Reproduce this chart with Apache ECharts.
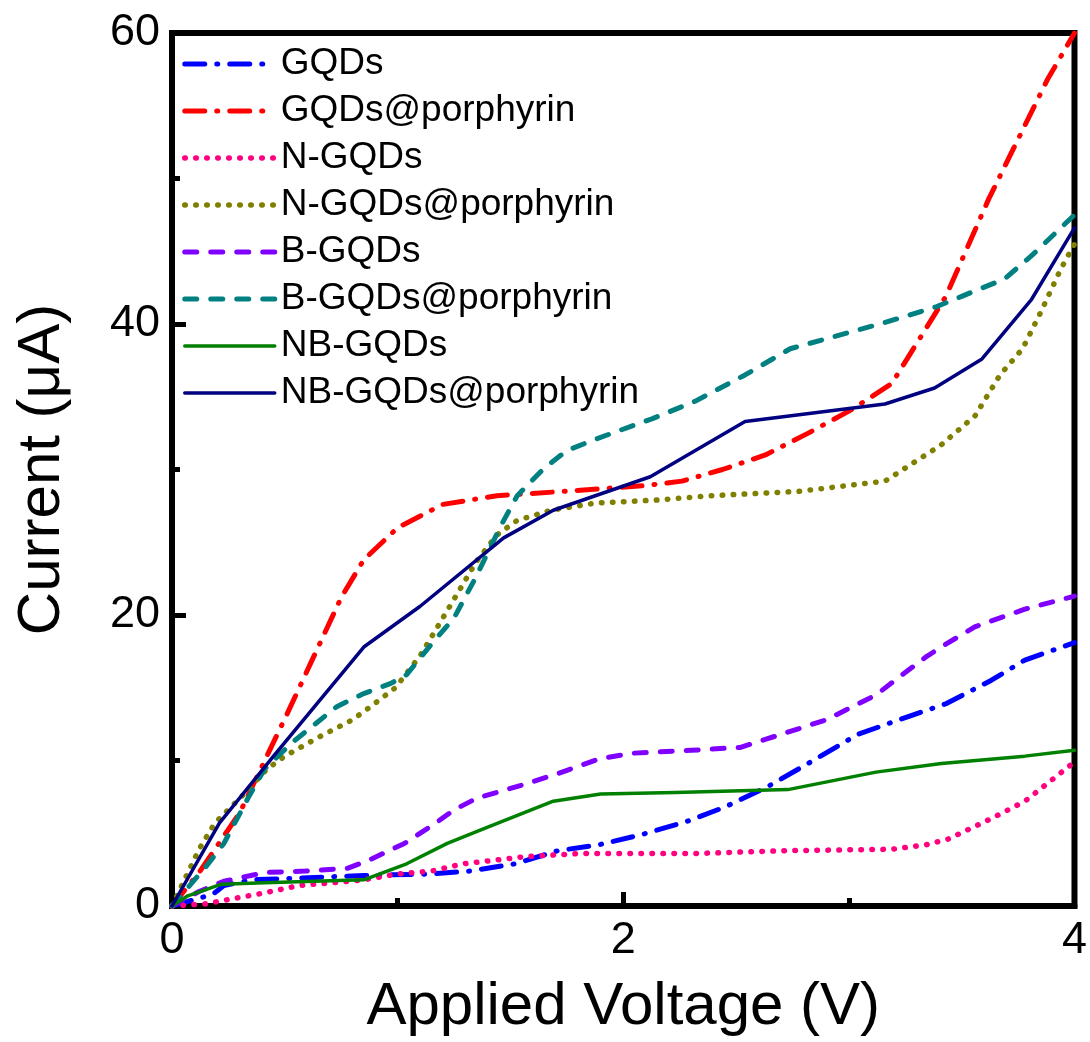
<!DOCTYPE html>
<html>
<head>
<meta charset="utf-8">
<script src="https://cdn.jsdelivr.net/npm/echarts@6/dist/echarts.min.js"></script>
<style>
html,body{margin:0;padding:0;background:#fff;}
#chart{width:1090px;height:1042px;}
</style>
</head>
<body>
<div id="chart"></div>
<script>
// Series names
const seriesNames = ['GQDs','GQDs@porphyrin','N-GQDs','N-GQDs@porphyrin','B-GQDs','B-GQDs@porphyrin','NB-GQDs','NB-GQDs@porphyrin'];

// [voltage (V), current (uA)]
const gqds = [[0,0],[0.18,0.8],[0.23,1.4],[0.35,1.8],[0.53,1.9],[0.85,2.1],[1.15,2.2],[1.32,2.4],[1.52,2.9],[1.71,3.8],[1.89,4.2],[2.08,4.9],[2.28,5.8],[2.45,6.8],[2.64,8.2],[2.82,9.8],[3.04,11.8],[3.26,13.0],[3.43,13.9],[3.63,15.5],[3.78,16.9],[4.0,18.1]];
const gqdsPor = [[0,0],[0.12,2.3],[0.3,6.4],[0.51,13.2],[0.75,21.2],[0.85,23.8],[1.0,26.0],[1.2,27.6],[1.44,28.2],[1.74,28.5],[2.1,28.9],[2.26,29.2],[2.44,30.0],[2.63,31.0],[2.82,32.5],[3.01,34.1],[3.19,35.9],[3.43,41.9],[3.62,48.6],[3.88,56.8],[4.0,60]];
const nGqds = [[0,0],[0.15,0.15],[0.27,0.5],[0.41,0.9],[0.56,1.4],[0.71,1.6],[0.85,1.8],[1.0,2.2],[1.15,2.4],[1.29,2.9],[1.57,3.4],[1.8,3.6],[2.3,3.6],[2.72,3.8],[3.19,3.9],[3.34,4.2],[3.44,4.6],[3.63,6.0],[3.78,7.2],[3.87,8.3],[4.0,9.9]];
const nGqdsPor = [[0,0],[0.12,3.9],[0.19,5.7],[0.32,7.7],[0.42,9.4],[0.5,10.3],[0.65,11.6],[0.8,12.8],[0.88,13.7],[0.99,15.0],[1.1,17.2],[1.22,20.3],[1.35,23.7],[1.44,25.5],[1.53,26.5],[1.68,27.2],[1.88,27.7],[2.15,27.9],[2.39,28.2],[2.78,28.5],[3.16,29.2],[3.26,30.2],[3.41,31.7],[3.56,33.7],[3.67,36.5],[3.77,38.3],[3.85,40.8],[3.94,43.8],[4.0,45.5]];
const bGqds = [[0,0],[0.12,1.0],[0.23,1.7],[0.41,2.3],[0.59,2.4],[0.78,2.6],[0.88,3.2],[1.03,4.3],[1.15,5.5],[1.25,6.6],[1.35,7.4],[1.57,8.4],[1.71,9.1],[1.89,10.1],[2.04,10.5],[2.3,10.7],[2.52,10.9],[2.64,11.5],[2.9,12.8],[3.12,14.5],[3.22,15.7],[3.34,17.1],[3.43,18.0],[3.56,19.2],[3.78,20.4],[4.0,21.3]];
const bGqdsPor = [[0,0],[0.15,2.7],[0.23,4.3],[0.34,7.5],[0.41,9.4],[0.53,11.2],[0.73,13.7],[0.85,14.6],[0.97,15.3],[1.04,15.9],[1.15,18.0],[1.25,19.8],[1.34,22.4],[1.46,26.2],[1.53,28.2],[1.65,30.1],[1.75,31.3],[1.88,32.1],[2.13,33.5],[2.32,34.7],[2.54,36.5],[2.74,38.3],[2.95,39.2],[3.16,40.1],[3.39,41.2],[3.5,41.9],[3.69,43.1],[3.81,44.7],[4.0,47.5]];
const nbGqds = [[0,0],[0.07,0.7],[0.22,1.5],[0.41,1.6],[0.63,1.7],[0.85,1.8],[1.04,2.9],[1.22,4.3],[1.38,5.3],[1.69,7.2],[1.9,7.7],[2.23,7.8],[2.73,8.0],[3.12,9.2],[3.41,9.8],[3.78,10.3],[4.0,10.7]];
const nbGqdsPor = [[0,0],[0.21,5.7],[0.45,10.3],[0.85,17.8],[1.1,20.6],[1.47,25.3],[1.69,27.2],[2.12,29.5],[2.54,33.3],[3.16,34.5],[3.38,35.6],[3.59,37.6],[3.81,41.7],[4.0,46.6]];

const xTicks = [0, 2, 4];
const yTicks = [0, 20, 40, 60];

const FONT = "'Liberation Sans', Arial, sans-serif";
const dashDot = [20, 12, 1, 12];
const dashed = [12, 14];
const dotted = [0.5, 10.5];

const styles = [
  {color:'#0000FF', width:5, type:dashDot},
  {color:'#FF0000', width:5, type:dashDot},
  {color:'#FF0080', width:5.5, type:dotted},
  {color:'#808000', width:5.5, type:dotted},
  {color:'#8000FF', width:5, type:dashed},
  {color:'#008080', width:5, type:dashed},
  {color:'#008000', width:3.5, type:'solid'},
  {color:'#000080', width:3.5, type:'solid'}
];
const datasets = [gqds, gqdsPor, nGqds, nGqdsPor, bGqds, bGqdsPor, nbGqds, nbGqdsPor];

const series = datasets.map((d, i) => ({
  name: seriesNames[i],
  type: 'line',
  data: d,
  symbol: 'none',
  showSymbol: false,
  clip: true,
  color: styles[i].color,
  lineStyle: {color: styles[i].color, width: styles[i].width, type: styles[i].type, cap: 'round', join: 'round'},
  z: 2
}));

const legendData = seriesNames.map((n, i) => ({
  name: n,
  itemStyle: {color: 'transparent', borderWidth: 0, opacity: 0},
  lineStyle: {color: styles[i].color, width: styles[i].width, type: styles[i].type, cap: 'round'}
}));

const chart = echarts.init(document.getElementById('chart'), null, {renderer:'canvas'});
chart.setOption({
  animation: false,
  backgroundColor: '#fff',
  textStyle: {fontFamily: FONT},
  grid: {left:172, right:12, top:33, bottom:131, show:true, borderColor:'#000', borderWidth:6, backgroundColor:'transparent'},
  legend: {
    orient:'vertical', left:177, top:39,
    itemWidth:90, itemHeight:14, itemGap:7,
    data: legendData,
    textStyle:{fontFamily:FONT, fontSize:37, color:'#000', lineHeight:40, padding:[0,0,0,1]}
  },
  xAxis: {
    type:'value', min:xTicks[0], max:xTicks[xTicks.length-1], interval:2,
    name:'Applied Voltage (V)', nameLocation:'middle', nameGap:71,
    nameTextStyle:{fontFamily:FONT, fontSize:60, color:'#000'},
    axisLine:{show:true, onZero:false, lineStyle:{color:'#000', width:6}},
    axisTick:{show:true, inside:true, length:14, lineStyle:{color:'#000', width:5}},
    minorTick:{show:true, splitNumber:2, length:8, lineStyle:{color:'#000', width:5}},
    axisLabel:{fontFamily:FONT, fontSize:45, color:'#000', margin:12},
    splitLine:{show:false}
  },
  yAxis: {
    type:'value', min:yTicks[0], max:yTicks[yTicks.length-1], interval:20,
    name:'Current (\u03BCA)', nameLocation:'middle', nameGap:100,
    nameTextStyle:{fontFamily:FONT, fontSize:60, color:'#000'},
    axisLine:{show:true, onZero:false, lineStyle:{color:'#000', width:6}},
    axisTick:{show:true, inside:true, length:14, lineStyle:{color:'#000', width:5}},
    minorTick:{show:true, splitNumber:2, length:8, lineStyle:{color:'#000', width:5}},
    axisLabel:{fontFamily:FONT, fontSize:45, color:'#000', margin:12},
    splitLine:{show:false}
  },
  series: series
});
</script>
</body>
</html>
